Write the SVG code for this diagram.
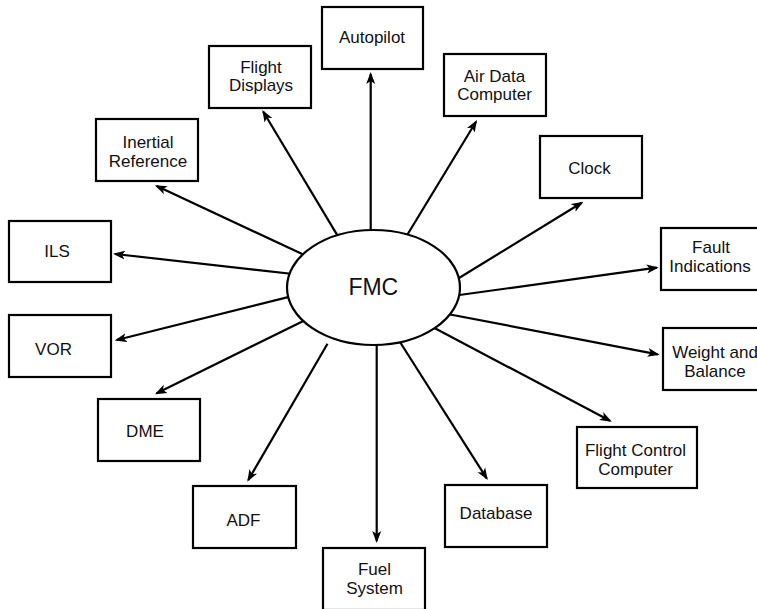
<svg xmlns="http://www.w3.org/2000/svg" width="757" height="609" viewBox="0 0 757 609">
<style>
.box{fill:#fff;stroke:#000;stroke-width:2.2}
.lbl{font-family:"Liberation Sans",Arial,sans-serif;font-size:17px;fill:#111;text-anchor:middle}
.conn{stroke:#000;stroke-width:2.2;fill:none;marker-end:url(#arr)}
</style>
<defs>
<marker id="arr" viewBox="0 0 12 10" markerUnits="userSpaceOnUse" markerWidth="12" markerHeight="10" refX="10" refY="5" orient="auto">
<path d="M0,0.5 L12,5 L0,9.5 L3,5 z" fill="#000"/>
</marker>
</defs>
<rect width="757" height="609" fill="#fff"/>
<g id="connectors">
<line class="conn" x1="370.7" y1="245" x2="370.7" y2="74"/>
<line class="conn" x1="343.7" y1="245.9" x2="263.3" y2="111.7"/>
<line class="conn" x1="400.5" y1="246" x2="476" y2="121.7"/>
<line class="conn" x1="446" y1="286" x2="581.7" y2="202.7"/>
<line class="conn" x1="445" y1="297" x2="656.7" y2="267.7"/>
<line class="conn" x1="437" y1="312" x2="657.7" y2="354.3"/>
<line class="conn" x1="425" y1="323" x2="610" y2="420.7"/>
<line class="conn" x1="393.6" y1="332" x2="486.7" y2="478.3"/>
<line class="conn" x1="376.7" y1="330" x2="376.7" y2="541"/>
<line class="conn" x1="327.5" y1="343.7" x2="248.3" y2="480"/>
<line class="conn" x1="313.5" y1="316" x2="156.7" y2="393.3"/>
<line class="conn" x1="291" y1="296.4" x2="116.7" y2="340"/>
<line class="conn" x1="302" y1="275" x2="115" y2="254"/>
<line class="conn" x1="315" y1="260" x2="156.7" y2="186"/>
</g>
<g id="fmc">
<ellipse cx="373.5" cy="287.5" rx="86.5" ry="57.5" fill="#fff" stroke="#000" stroke-width="2.2"/>
<text x="373.3" y="295" font-family="'Liberation Sans',Arial,sans-serif" font-size="23" fill="#111" text-anchor="middle">FMC</text>
</g>
<g id="autopilot">
<rect class="box" x="322" y="7" width="101" height="62"/>
<text class="lbl" x="372" y="43">Autopilot</text>
</g>
<g id="flight-displays">
<rect class="box" x="209" y="46" width="102" height="62"/>
<text class="lbl" x="261" y="72.5">Flight</text>
<text class="lbl" x="261" y="91">Displays</text>
</g>
<g id="air-data-computer">
<rect class="box" x="444" y="54" width="102" height="62"/>
<text class="lbl" x="494.5" y="81.5">Air Data</text>
<text class="lbl" x="494.5" y="100">Computer</text>
</g>
<g id="clock">
<rect class="box" x="540" y="136" width="102" height="62"/>
<text class="lbl" x="589.5" y="174">Clock</text>
</g>
<g id="fault-indications">
<rect class="box" x="661" y="228" width="102" height="62"/>
<text class="lbl" x="711" y="253">Fault</text>
<text class="lbl" x="710" y="271.5">Indications</text>
</g>
<g id="weight-and-balance">
<rect class="box" x="663" y="328" width="102" height="62"/>
<text class="lbl" x="715" y="358">Weight and</text>
<text class="lbl" x="715" y="376.5">Balance</text>
</g>
<g id="flight-control-computer">
<rect class="box" x="577" y="427" width="120" height="61"/>
<text class="lbl" x="635.5" y="456">Flight Control</text>
<text class="lbl" x="635.5" y="474.5">Computer</text>
</g>
<g id="database">
<rect class="box" x="445" y="485" width="102" height="62"/>
<text class="lbl" x="496" y="519">Database</text>
</g>
<g id="fuel-system">
<rect class="box" x="323" y="548" width="102" height="62"/>
<text class="lbl" x="374.5" y="575">Fuel</text>
<text class="lbl" x="374.5" y="593.5">System</text>
</g>
<g id="adf">
<rect class="box" x="193" y="486" width="103" height="62"/>
<text class="lbl" x="243.5" y="526">ADF</text>
</g>
<g id="dme">
<rect class="box" x="98" y="399" width="102" height="62"/>
<text class="lbl" x="145" y="436.5">DME</text>
</g>
<g id="vor">
<rect class="box" x="9" y="315" width="102" height="62"/>
<text class="lbl" x="53.5" y="355">VOR</text>
</g>
<g id="ils">
<rect class="box" x="9" y="221" width="102" height="61"/>
<text class="lbl" x="57" y="256.5">ILS</text>
</g>
<g id="inertial-reference">
<rect class="box" x="96" y="119" width="102" height="62"/>
<text class="lbl" x="148" y="148">Inertial</text>
<text class="lbl" x="148" y="166.5">Reference</text>
</g>
</svg>
